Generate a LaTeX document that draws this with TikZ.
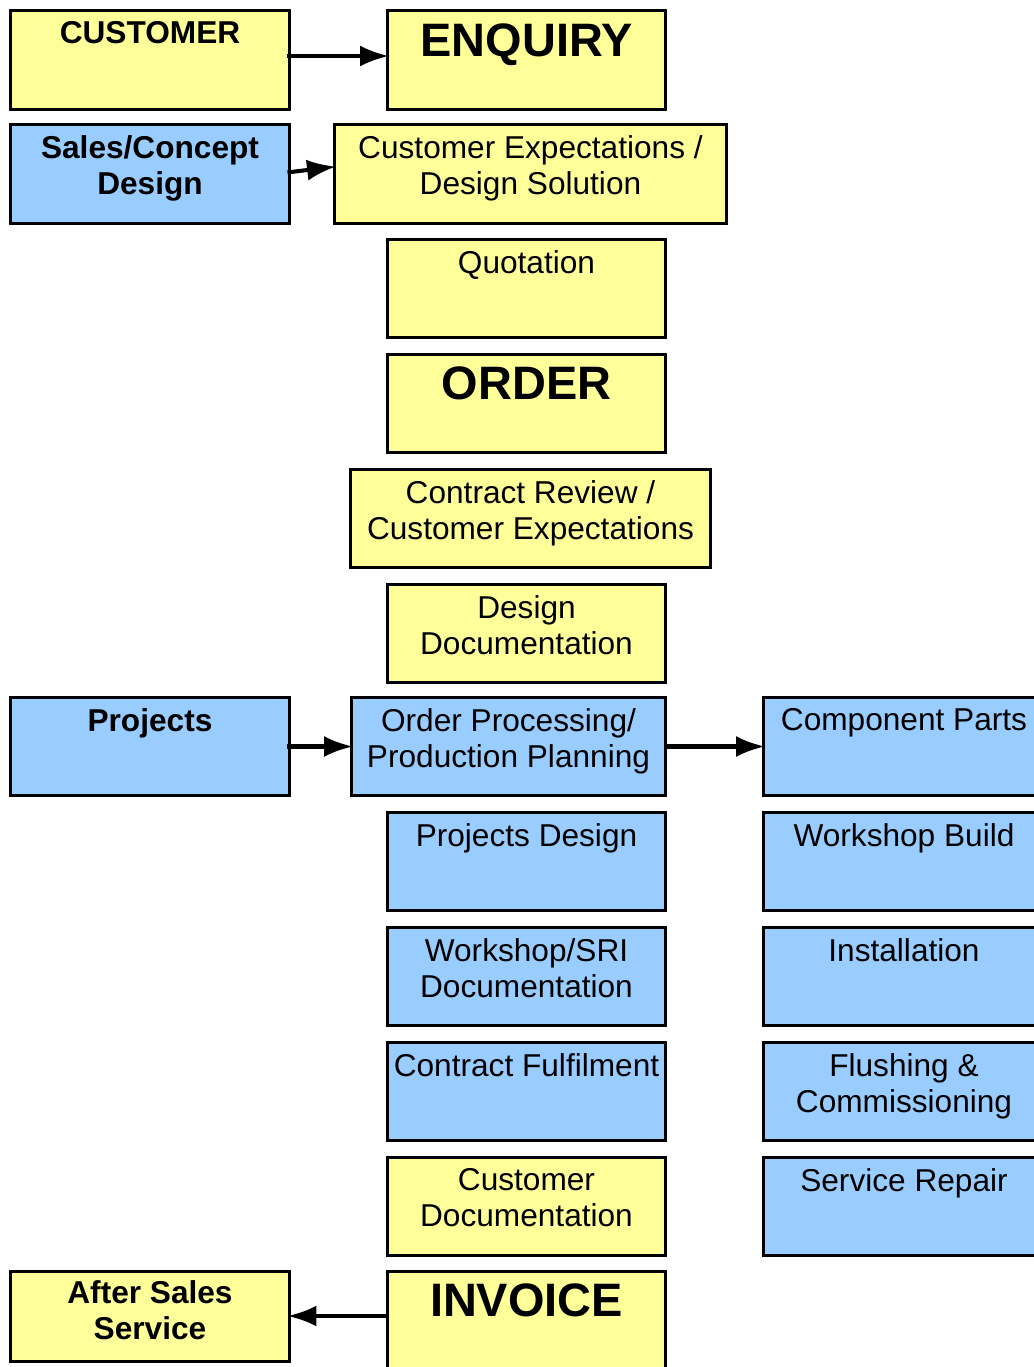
\documentclass[tikz,border=0pt]{standalone}
\usepackage{fontspec}
\setmainfont{Liberation Sans}
\usetikzlibrary{arrows.meta}

\definecolor{boxyellow}{HTML}{FFFF99}
\definecolor{boxblue}{HTML}{99CCFF}

\begin{document}
\begin{tikzpicture}[x=0.02cm, y=-0.02cm,
		box_style/.style={rectangle,draw=black,line width=1.7pt,minimum width=5.58cm,minimum height=1.97cm,inner sep=0pt},
		yellow_style/.style={box_style,fill=boxyellow},
		blue_style/.style={box_style,fill=boxblue},
		text_style/.style={anchor=north,yshift=-0.24cm,inner sep=0pt,align=center,font=\fontsize{18}{20.5}\selectfont},
		head_style/.style={text_style,font=\fontsize{18}{20.5}\selectfont\bfseries},
		big_style/.style={text_style,yshift=-0.04cm,font=\fontsize{26.7}{30}\selectfont\bfseries},
		edge_style/.style={draw=black,line width=2.3pt,shorten <=-2pt,shorten >=-2pt,-{Latex[length=0.58cm,width=0.42cm]}}]
		\path[use as bounding box,clip] (0,0) rectangle (1034,1367);
		\node[yellow_style,label={[head_style]north:CUSTOMER}] (customer) at (150,60) {};
		\node[yellow_style,label={[big_style]north:ENQUIRY}] (enquiry) at (526.5,60) {};
		\node[blue_style,label={[head_style]north:Sales/Concept\\Design}] (sales) at (150,174) {};
		\node[yellow_style,minimum width=7.86cm,label={[text_style]north:Customer Expectations /\\Design Solution}] (expect) at (530.5,174) {};
		\node[yellow_style,label={[text_style]north:Quotation}] (quote) at (526.5,288.5) {};
		\node[yellow_style,label={[big_style]north:ORDER}] (order) at (526.5,403.5) {};
		\node[yellow_style,minimum width=7.22cm,label={[text_style]north:Contract Review /\\Customer Expectations}] (review) at (530.5,518.5) {};
		\node[yellow_style,label={[text_style]north:Design\\Documentation}] (designdoc) at (526.5,633.5) {};
		\node[blue_style,label={[head_style]north:Projects}] (projects) at (150,746.5) {};
		\node[blue_style,minimum width=6.3cm,label={[text_style]north:Order Processing/\\Production Planning}] (planning) at (508.5,746.5) {};
		\node[blue_style,minimum width=5.64cm,label={[text_style]north:Component Parts}] (parts) at (904,746.5) {};
		\node[blue_style,label={[text_style]north:Projects Design}] (projdesign) at (526.5,861.5) {};
		\node[blue_style,minimum width=5.64cm,label={[text_style]north:Workshop Build}] (build) at (904,861.5) {};
		\node[blue_style,label={[text_style]north:Workshop/SRI\\Documentation}] (sridoc) at (526.5,976.5) {};
		\node[blue_style,minimum width=5.64cm,label={[text_style]north:Installation}] (install) at (904,976.5) {};
		\node[blue_style,label={[text_style]north:Contract Fulfilment}] (fulfil) at (526.5,1091.5) {};
		\node[blue_style,minimum width=5.64cm,label={[text_style]north:Flushing \&\\Commissioning}] (flushing) at (904,1091.5) {};
		\node[yellow_style,label={[text_style]north:Customer\\Documentation}] (custdoc) at (526.5,1206.5) {};
		\node[blue_style,minimum width=5.64cm,label={[text_style]north:Service Repair}] (repair) at (904,1206.5) {};
		\node[yellow_style,minimum height=1.8cm,label={[head_style,yshift=0.02cm]north:After Sales\\Service}] (aftersales) at (150,1316) {};
		\node[yellow_style,minimum height=1.98cm,label={[big_style]north:INVOICE}] (invoice) at (526.5,1320.5) {};
		\draw[edge_style] ([yshift=0.08cm]customer.east) -- ([yshift=0.08cm]enquiry.west);
		\draw[edge_style] ([yshift=0.04cm]sales.east) -- ([yshift=0.14cm]expect.west);
		\draw[edge_style] (projects.east) -- (planning.west);
		\draw[edge_style] (planning.east) -- (parts.west);
		\draw[edge_style] (invoice.west |- aftersales.east) -- (aftersales.east);
\end{tikzpicture}
\end{document}
